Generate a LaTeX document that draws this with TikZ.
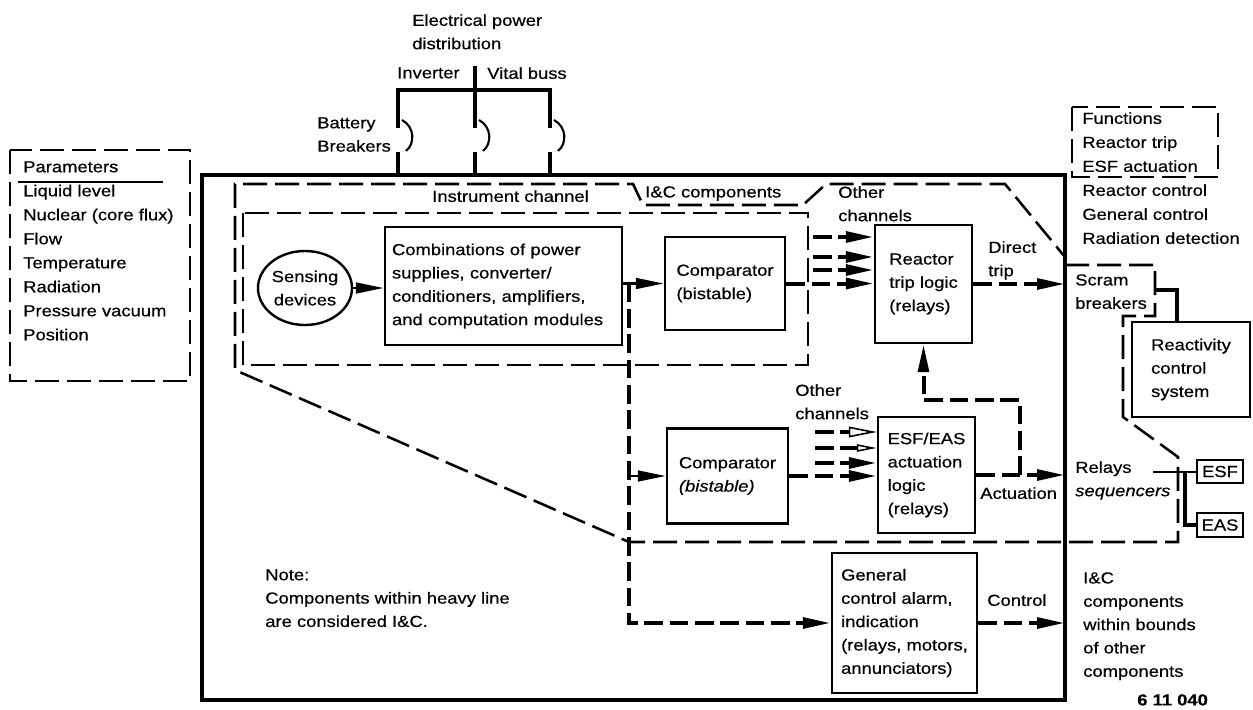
\documentclass[tikz,border=0pt]{standalone}
\usepackage{fontspec}
\setmainfont{Liberation Sans}[FakeStretch=1.15,FakeBold=0.5]
\usetikzlibrary{arrows.meta,shapes.geometric}
\newlength\pu
\setlength\pu{0.75pt}
\begin{document}
\begin{tikzpicture}[x=0.75pt,y=-0.75pt,
  every node/.style={font=\fontsize{12}{17.5}\selectfont},
  txt/.style={anchor=north west,inner sep=0pt,align=left},
  blk/.style={draw,line width=1.8pt,align=left,inner sep=0pt},
  heavy/.style={line width=3pt},
  bnd/.style={line width=1.9pt,dash pattern=on 18pt off 6pt},
  hd/.style={line width=3pt,dash pattern=on 14pt off 5pt},
  tip/.style={-{Triangle[length=21pt,width=8pt]}},
  otip/.style={-{Triangle[open,length=21pt,width=8pt,line width=1.2pt]}},
  stip/.style={-{Triangle[open,length=15pt,width=5.5pt,line width=1.2pt]}},
]
\useasboundingbox (0,0) rectangle (1253,710);

% heavy I&C boundary
\node[draw,line width=3pt,outer sep=0pt,inner sep=0pt,minimum width=863\pu,minimum height=525\pu] (ic) at (633.5,437.5) {};

% dashed boundaries
\draw[bnd] (1065,265) -- (1155,265) -- (1155,316) -- (1123,316) -- (1123,417) -- (1178,457) -- (1178,542) -- (629,542) -- (235,370) -- (235,184) -- (633,184) -- (643,205) -- (803,205) -- (826,184) -- (1005,184) -- (1065,257);
\draw[bnd] (243,213) rectangle (808,365);
\draw[bnd] (10,150) rectangle (190,381);
\draw[bnd] (1072,107) rectangle (1218,177);
\draw[line width=1.5pt] (18,182) -- (163,182);

% parameters
\node[txt,font=\fontsize{12}{18}\selectfont] (par) at (23,161) {Parameters\\Liquid level\\Nuclear (core flux)\\Flow\\Temperature\\Radiation\\Pressure vacuum\\Position};
\node[txt,font=\fontsize{12}{18}\selectfont] (fun) at (1082,112) {Functions\\Reactor trip\\ESF actuation\\Reactor control\\General control\\Radiation detection};

% power distribution
\node[txt] (epd) at (412,14) {Electrical power\\distribution};
\node[txt] (inv) at (397,67) {Inverter};
\node[txt] (vb) at (487,67) {Vital buss};
\node[txt] (bb) at (317,117) {Battery\\Breakers};
\coordinate (bl) at (398,90);
\coordinate (br) at (550,90);
\coordinate (bm) at (475,90);
\coordinate (bt) at (475,66);
\draw[heavy] (bl) -- (br);
\draw[heavy] (bt) -- (bm);
\foreach \x in {398,475,550}{
  \draw[heavy] (\x,88.5) -- (\x,128);
  \draw[heavy] (\x,152) -- (ic.north -| \x,0);
  \draw[line width=1.6pt] (\x+4,120) .. controls (\x+17,127) and (\x+17,144) .. (\x+8,151);
}

% labels
\node[txt] (ich) at (432,190) {Instrument channel};
\node[txt] (icc) at (645,186) {I\&C components};
\node[txt] (oc1) at (838,186) {Other\\channels};
\node[txt] (dt) at (988,241) {Direct\\trip};
\node[txt] (scram) at (1075,274) {Scram\\breakers};
\node[txt] (oc2) at (795,384) {Other\\channels};
\node[txt] (act) at (980,487) {Actuation};
\node[txt] (rel) at (1075,461) {Relays\\\textit{sequencers}};
\node[txt] (ctl) at (987,594) {Control};
\node[txt] (icb) at (1083,572) {I\&C\\components\\within bounds\\of other\\components};
\node[txt] (note) at (265,569) {Note:\\Components within heavy line\\are considered I\&C.};
\node[txt,font=\bfseries\fontsize{12}{17.5}\selectfont] (num) at (1137,694) {6 11 040};

% blocks
\node[blk,ellipse,align=center,minimum width=93\pu,minimum height=74\pu] (sens) at (305,288) {Sensing\\devices};
\node[blk,minimum width=237\pu,minimum height=118\pu,text width=223\pu] (comb) at (503.5,286) {Combinations of power\\supplies, converter/\\conditioners, amplifiers,\\and computation modules};
\node[blk,minimum width=120\pu,minimum height=93\pu] (cmp1) at (725,283.5) {Comparator\\(bistable)};
\node[blk,minimum width=97\pu,minimum height=118\pu] (rtl) at (923.5,284) {Reactor\\trip logic\\(relays)};
\node[blk,minimum width=121\pu,minimum height=95\pu] (cmp2) at (727.5,476) {Comparator\\\textit{(bistable)}};
\node[blk,minimum width=97\pu,minimum height=116\pu] (esf) at (926.5,475) {ESF/EAS\\actuation\\logic\\(relays)};
\node[blk,minimum width=145\pu,minimum height=140\pu] (gen) at (904.5,623) {General\\control alarm,\\indication\\(relays, motors,\\annunciators)};
\node[blk,minimum width=118\pu,minimum height=95\pu] (rcs) at (1191,369.5) {Reactivity\\control\\system};
\node[blk,align=center,minimum width=46\pu,minimum height=23\pu] (esfs) at (1220,471.5) {ESF};
\node[blk,align=center,minimum width=46\pu,minimum height=24\pu] (eass) at (1220,525) {EAS};

% connectors
\draw[line width=2pt,tip] (sens.east) -- (sens.east -| comb.west);
\draw[line width=2pt,tip] (comb.east |- cmp1.west) -- (cmp1.west);
\coordinate (j) at (629,283.5);
\draw[hd,tip] (j) -- (j |- gen.west) -- (gen.west);
\draw[line width=2pt,tip] (j |- cmp2.west) -- (cmp2.west);
\draw[hd,tip] (cmp1.east) -- (cmp1.east -| rtl.west);
\coordinate (o1) at (813,237);
\coordinate (o2) at (813,257);
\coordinate (o3) at (813,270);
\draw[hd,tip] (o1) -- (o1 -| rtl.west);
\draw[hd,tip] (o2) -- (o2 -| rtl.west);
\draw[hd,tip] (o3) -- (o3 -| rtl.west);
\draw[hd,tip] (rtl.east) -- (rtl.east -| ic.east);
\draw[hd,tip] (cmp2.east) -- (cmp2.east -| esf.west);
\coordinate (e1) at (815,432);
\coordinate (e2) at (815,448);
\coordinate (e3) at (815,463);
\draw[hd,otip] (e1) -- (e1 -| esf.west);
\draw[hd,stip] (e2) -- (e2 -| esf.west);
\draw[hd,tip] (e3) -- (e3 -| esf.west);
\draw[hd,tip] (esf.east) -- (esf.east -| ic.east);
\coordinate (k) at (1020,475);
\coordinate (kt) at (1020,400);
\draw[hd,tip] (k) -- (kt) -- (kt -| rtl.south) -- (rtl.south);
\draw[hd,tip] (gen.east) -- (gen.east -| ic.east);
\coordinate (sr) at (1155,290);
\draw[heavy] (sr) -| ([xshift=-14\pu]rcs.north);
\coordinate (rl) at (1153,472);
\draw[line width=1.5pt] (rl) -- (rl -| esfs.west);
\coordinate (rj) at (1185,472);
\draw[heavy] (rj) |- (eass.west);
\end{tikzpicture}
\end{document}
